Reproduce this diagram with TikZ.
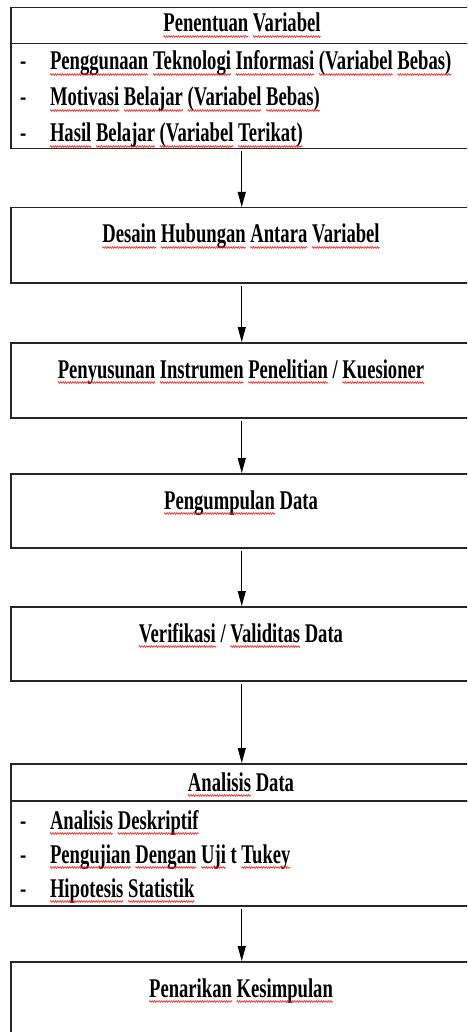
\documentclass[tikz,border=0pt]{standalone}
\usepackage{fontspec}
\setmainfont[FakeStretch=0.69]{Liberation Serif}
\usetikzlibrary{arrows.meta,decorations.pathmorphing}
\newlength\sqw
\newcommand\sq[1]{\settowidth\sqw{#1}#1\llap{\tikz[x=1pt,y=1pt,baseline=0pt]{\useasboundingbox (0pt,0pt) rectangle (\sqw,0.1pt);\draw[red,line width=0.5pt,decorate,decoration={zigzag,segment length=2.4pt,amplitude=0.9pt}] (0pt,-4.5pt) -- (\sqw,-4.5pt);}}}
\tikzset{
  box/.style={draw=black!85, line width=1.5pt, rectangle, inner sep=0pt, minimum width=462pt, anchor=north west},
  lbl/.style={font=\fontsize{27}{29}\selectfont\bfseries, inner sep=0pt, outer sep=0pt, text=black},
  arr/.style={draw=black, line width=1pt, -{Triangle[width=8pt,length=15pt]}, shorten <=2pt}
}
\begin{document}
\begin{tikzpicture}[x=1pt,y=-1pt]
\clip (0,0) rectangle (467,1032);
\fill[white] (0,0) rectangle (467,1032);
% box 1
\node[box, minimum height=36pt] (b1h) at (10,7) {};
\node[box, minimum height=105pt] (b1b) at (10,43) {};
\node[lbl, anchor=base] (t1) at (242,32) {\sq{Penentuan} \sq{Variabel}};
\node[lbl, anchor=base west] (d11) at (20,70) {-};
\node[lbl, anchor=base west] (i11) at (50,70) {\sq{Penggunaan} \sq{Teknologi} \sq{Informasi} \sq{(Variabel} \sq{Bebas)}};
\node[lbl, anchor=base west] (d12) at (20,106) {-};
\node[lbl, anchor=base west] (i12) at (50,106) {\sq{Motivasi} \sq{Belajar} \sq{(Variabel} \sq{Bebas)}};
\node[lbl, anchor=base west] (d13) at (20,142) {-};
\node[lbl, anchor=base west] (i13) at (50,142) {\sq{Hasil} \sq{Belajar} \sq{(Variabel} \sq{Terikat)}};
% box 2
\node[box, minimum height=75pt] (b2) at (10,207) {};
\node[lbl, anchor=base] (t2) at (241,243) {\sq{Desain} \sq{Hubungan} \sq{Antara} \sq{Variabel}};
% box 3
\node[box, minimum height=75pt] (b3) at (10,342) {};
\node[lbl, anchor=base] (t3) at (241,378) {\sq{Penyusunan} \sq{Instrumen} \sq{Penelitian} / \sq{Kuesioner}};
% box 4
\node[box, minimum height=74pt] (b4) at (10,473) {};
\node[lbl, anchor=base] (t4) at (241,509) {\sq{Pengumpulan} Data};
% box 5
\node[box, minimum height=74pt] (b5) at (10,606) {};
\node[lbl, anchor=base] (t5) at (241,642) {\sq{Verifikasi} / \sq{Validitas} Data};
% box 6
\node[box, minimum height=37pt] (b6h) at (10,763) {};
\node[box, minimum height=105pt] (b6b) at (10,800) {};
\node[lbl, anchor=base] (t6) at (241,791) {\sq{Analisis} Data};
\node[lbl, anchor=base west] (d61) at (20,829) {-};
\node[lbl, anchor=base west] (i61) at (50,829) {\sq{Analisis} \sq{Deskriptif}};
\node[lbl, anchor=base west] (d62) at (20,863) {-};
\node[lbl, anchor=base west] (i62) at (50,863) {\sq{Pengujian} \sq{Dengan} \sq{Uji} t \sq{Tukey}};
\node[lbl, anchor=base west] (d63) at (20,897) {-};
\node[lbl, anchor=base west] (i63) at (50,897) {\sq{Hipotesis} \sq{Statistik}};
% box 7
\node[box, minimum height=100pt] (b7) at (10,961) {};
\node[lbl, anchor=base] (t7) at (241,997) {\sq{Penarikan} \sq{Kesimpulan}};
% arrows
\draw[arr] (b1b.south) -- (b2.north);
\draw[arr] (b2.south) -- (b3.north);
\draw[arr] (b3.south) -- (b4.north);
\draw[arr] (b4.south) -- (b5.north);
\draw[arr] (b5.south) -- (b6h.north);
\draw[arr] (b6b.south) -- (b7.north);
\end{tikzpicture}
\end{document}
